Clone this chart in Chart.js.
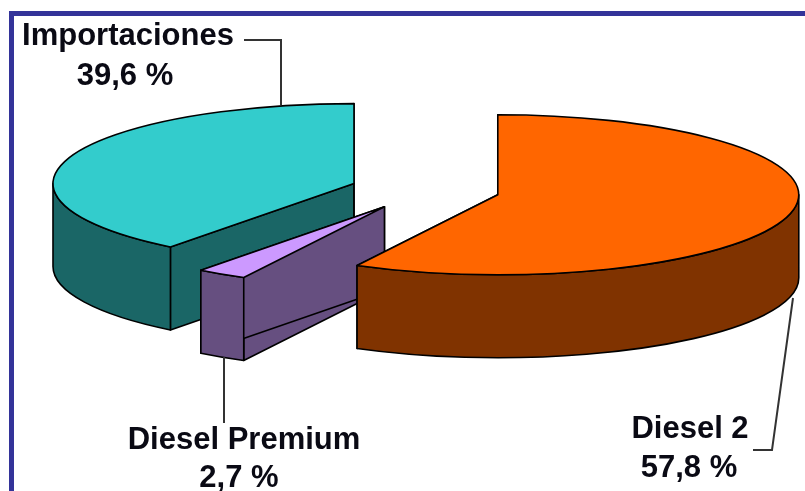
<!DOCTYPE html>
<html>
<head>
<meta charset="utf-8">
<script src="https://cdn.jsdelivr.net/npm/chart.js@4"></script>
<style>
  html, body { margin: 0; padding: 0; background: #fff; overflow: hidden; }
  #frame { position: absolute; left: 9px; top: 11px; width: 796px; height: 480px; box-sizing: border-box;
           border-left: 5px solid #333399; border-top: 5px solid #333399; }
  canvas { position: absolute; left: 0; top: 0; }
</style>
</head>
<body>
<div id="frame"></div>
<canvas id="pie" width="805" height="491"></canvas>
<script>
const categories = ['Diesel 2', 'Diesel Premium', 'Importaciones'];
const shares = [57.8, 2.7, 39.6];

const topColors = ['#FF6600', '#CC99FF', '#33CCCC'];
const sideColors = ['#803300', '#664F80', '#1A6666'];

// look of the fake 3D pie, in screen pixels
const center = { x: 425, y: 190 };
const radiusX = 301;
const radiusY = 80;
const depth = 83;
const explode = 75;
const baseRadius = 150;
const drawOrder = [2, 1, 0]; // back to front

// label blocks: name line, value line, then the leader line
const labelSpots = [
  { x: 690, y: 438, vx: 689, vy: 477, leader: [[753, 450], [772, 450], [793, 298]] },
  { x: 244, y: 449, vx: 239, vy: 487, leader: [[224, 357], [224, 423]] },
  { x: 128, y: 45, vx: 125, vy: 85, leader: [[244, 40], [281, 40], [281, 105]] }
];

class Pie3dController extends Chart.PieController {
  static id = 'pie3d';

  draw() {
    const ctx = this.chart.ctx;
    const arcs = this._cachedMeta.data;
    const sx = radiusX / baseRadius;
    const sy = radiusY / baseRadius;

    drawOrder.forEach(i => {
      const arc = arcs[i];
      const mid = (arc.startAngle + arc.endAngle) / 2;
      const off = explode / sx;
      const cx = center.x + Math.cos(mid) * off * sx;
      const cy = center.y + Math.sin(mid) * off * sy;
      const a0 = arc.startAngle;
      const a1 = arc.endAngle;
      const px = a => cx + Math.cos(a) * radiusX;
      const py = a => cy + Math.sin(a) * radiusY;

      ctx.save();
      ctx.lineWidth = 1.6;
      ctx.strokeStyle = '#000';
      ctx.lineJoin = 'round';
      ctx.fillStyle = sideColors[i];

      // cut faces
      [a0, a1].forEach(a => {
        ctx.beginPath();
        ctx.moveTo(cx, cy);
        ctx.lineTo(px(a), py(a));
        ctx.lineTo(px(a), py(a) + depth);
        ctx.lineTo(cx, cy + depth);
        ctx.closePath();
        ctx.fill();
        ctx.stroke();
      });

      // outer wall, only the part that faces the viewer
      const from = Math.max(a0, 0);
      const to = Math.min(a1, Math.PI);
      if (to > from) {
        ctx.beginPath();
        ctx.ellipse(cx, cy, radiusX, radiusY, 0, from, to);
        ctx.ellipse(cx, cy + depth, radiusX, radiusY, 0, to, from, true);
        ctx.closePath();
        ctx.fill();
        ctx.stroke();
      }
      ctx.restore();

      // top face: the library's own arc, squashed
      ctx.save();
      ctx.translate(cx, cy);
      ctx.scale(sx, sy);
      ctx.translate(-arc.x, -arc.y);
      arc.draw(ctx);
      ctx.restore();

      ctx.save();
      ctx.lineWidth = 1.6;
      ctx.strokeStyle = '#000';
      ctx.lineJoin = 'round';
      ctx.beginPath();
      ctx.moveTo(cx, cy);
      ctx.ellipse(cx, cy, radiusX, radiusY, 0, a0, a1);
      ctx.closePath();
      ctx.stroke();
      ctx.restore();
    });
  }
}
Chart.register(Pie3dController);

const labelPlugin = {
  id: 'sliceLabels',
  afterDraw(chart) {
    const ctx = chart.ctx;
    ctx.save();
    ctx.strokeStyle = '#333';
    ctx.lineWidth = 2;
    labelSpots.forEach(s => {
      ctx.beginPath();
      s.leader.forEach((p, j) => j ? ctx.lineTo(p[0], p[1]) : ctx.moveTo(p[0], p[1]));
      ctx.stroke();
    });
    ctx.fillStyle = '#0a0a14';
    ctx.font = 'bold 31px "Liberation Sans", Arial, sans-serif';
    ctx.textAlign = 'center';
    ctx.textBaseline = 'alphabetic';
    categories.forEach((name, i) => {
      const s = labelSpots[i];
      ctx.fillText(name, s.x, s.y);
      ctx.fillText(shares[i].toFixed(1).replace('.', ',') + ' %', s.vx, s.vy);
    });
    ctx.restore();
  }
};

new Chart(document.getElementById('pie'), {
  type: 'pie3d',
  data: {
    labels: categories,
    datasets: [{
      data: shares,
      backgroundColor: topColors,
      borderWidth: 0,
      radius: baseRadius
    }]
  },
  options: {
    responsive: false,
    animation: false,
    events: [],
    radius: baseRadius,
    plugins: { legend: { display: false }, tooltip: { enabled: false } }
  },
  plugins: [labelPlugin]
});
</script>
</body>
</html>
